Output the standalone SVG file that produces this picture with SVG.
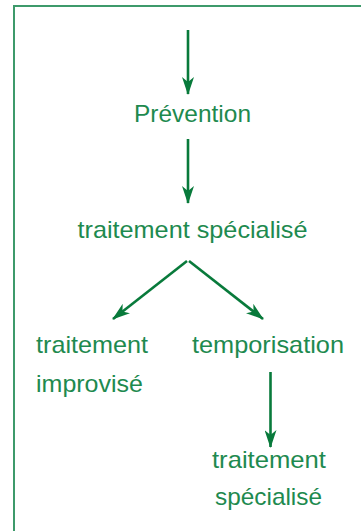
<svg xmlns="http://www.w3.org/2000/svg" width="361" height="531" viewBox="0 0 361 531">
<style>
.t{font-family:"Liberation Sans","DejaVu Sans",sans-serif;font-size:24px;fill:#1e8a4f}
.c{stroke:#087a3b;stroke-width:2.6;fill:none}
</style>
<defs>
<marker id="ah" viewBox="0 0 18 12" markerWidth="18" markerHeight="12" refX="17" refY="6" orient="auto" markerUnits="userSpaceOnUse">
<path d="M0,0 L18,6 L0,12 L5,6 Z" fill="#087a3b"/>
</marker>
</defs>
<rect width="361" height="531" fill="#ffffff"/>
<path d="M14,531 V6 H361" fill="none" stroke="#3d9a6b" stroke-width="2"/>
<g id="connectors">
<line class="c" x1="188" y1="30" x2="188" y2="94" marker-end="url(#ah)"/>
<line class="c" x1="188" y1="139" x2="188" y2="203" marker-end="url(#ah)"/>
<line class="c" x1="187" y1="261" x2="113" y2="319" marker-end="url(#ah)"/>
<line class="c" x1="189" y1="261" x2="263" y2="319" marker-end="url(#ah)"/>
<line class="c" x1="270.5" y1="372" x2="270.5" y2="447" marker-end="url(#ah)"/>
</g>
<g id="prevention"><text class="t" x="192.5" y="122" text-anchor="middle" textLength="117" lengthAdjust="spacingAndGlyphs">Prévention</text></g>
<g id="traitement-specialise"><text class="t" x="192.5" y="238" text-anchor="middle" textLength="230" lengthAdjust="spacingAndGlyphs">traitement spécialisé</text></g>
<g id="traitement-improvise">
<text class="t" x="36" y="353" textLength="112" lengthAdjust="spacingAndGlyphs">traitement</text>
<text class="t" x="36" y="392" textLength="107" lengthAdjust="spacingAndGlyphs">improvisé</text>
</g>
<g id="temporisation"><text class="t" x="192" y="353" textLength="152" lengthAdjust="spacingAndGlyphs">temporisation</text></g>
<g id="traitement-specialise-2">
<text class="t" x="269" y="468" text-anchor="middle" textLength="114" lengthAdjust="spacingAndGlyphs">traitement</text>
<text class="t" x="268.5" y="505" text-anchor="middle" textLength="107" lengthAdjust="spacingAndGlyphs">spécialisé</text>
</g>
</svg>
